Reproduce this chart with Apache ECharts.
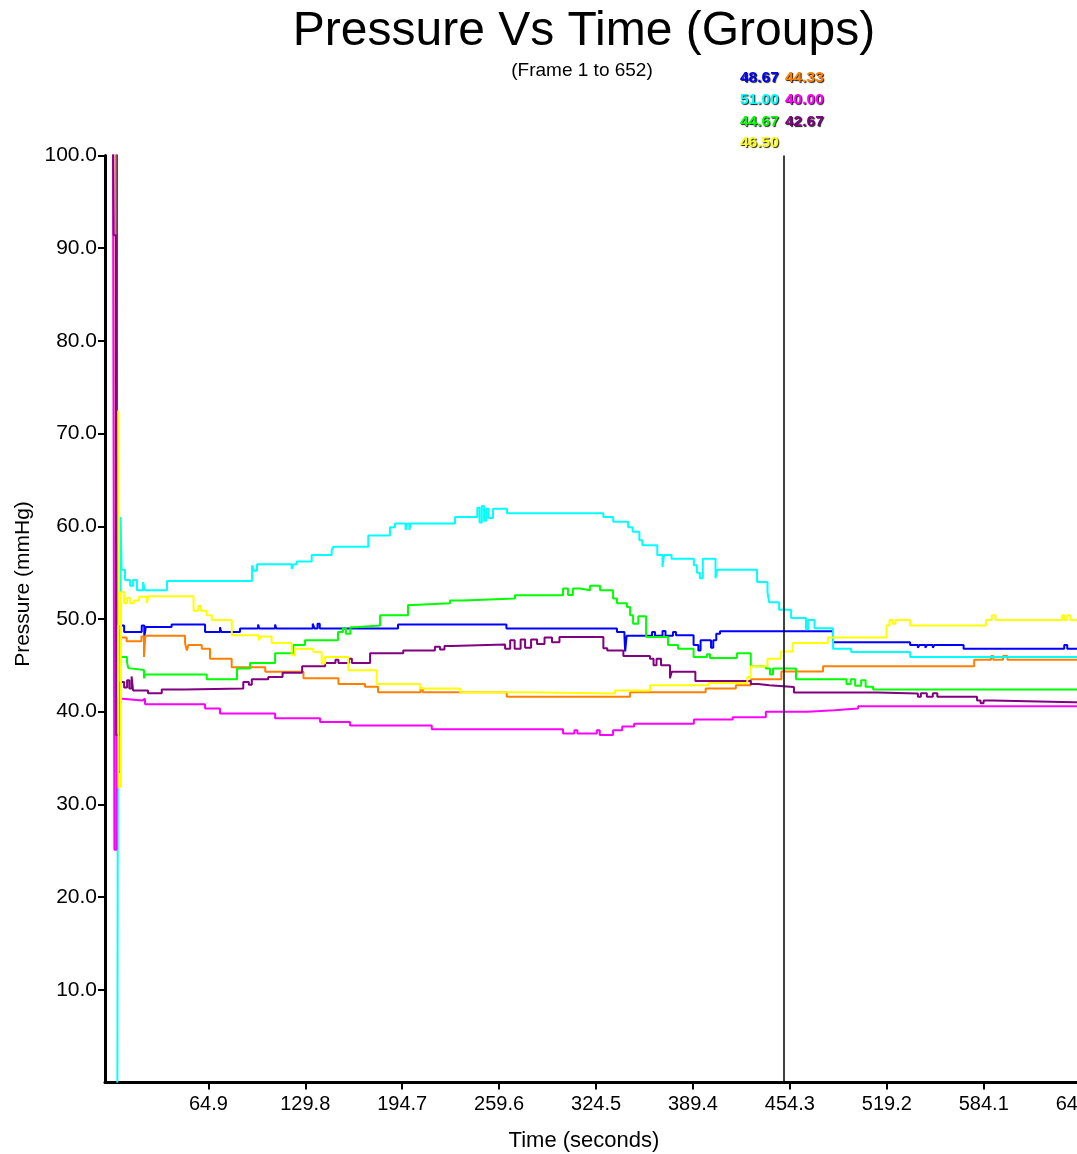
<!DOCTYPE html>
<html><head><meta charset="utf-8">
<script src="https://cdn.jsdelivr.net/npm/echarts@6/dist/echarts.min.js"></script>
<style>html,body{margin:0;padding:0;overflow:hidden;background:#fff;} #chart{width:1130px;height:1154px;}</style>
</head><body><div id="chart"></div>
<script>
// ---- data ----
const titleText = 'Pressure Vs Time (Groups)';
const subtitleText = '(Frame 1 to 652)';
const xAxisName = 'Time (seconds)';
const yAxisName = 'Pressure (mmHg)';
const xTicks = [64.9, 129.8, 194.7, 259.6, 324.5, 389.4, 454.3, 519.2, 584.1, 649.0];
const cursorTime = 450;
const seriesNames = ['Blue', 'Orange', 'Cyan', 'Magenta', 'Green', 'Purple', 'Yellow'];
const seriesColors = ['#0000ff', '#ff8000', '#00ffff', '#ff00ff', '#00ff00', '#800080', '#ffff00'];
const cursorValues = [48.67, 44.33, 51.00, 40.00, 44.67, 42.67, 46.50];

const blueData = [[1.0,105],[3.6,33.5],[6.0,49.3],[8.5,48.6],[20.3,49.3],[22.0,48.0],[23.0,49.15],[40.3,49.4],[62.7,48.6],[72.7,49.1],[73.5,48.6],[86.1,48.97],[98.2,49.4],[99.0,48.97],[109.6,49.4],[110.4,48.97],[134.8,49.5],[136,48.97],[138,49.5],[139.5,48.97],[191.9,49.4],[264.5,48.97],[338.5,48.6],[343.5,48.2],[344,46.5],[345,48.2],[362,48.6],[364,48.2],[369,48.7],[371,48.2],[376,48.6],[378,48.25],[389.8,47.2],[393,46.6],[394.5,47.7],[401.5,46.9],[403,47.7],[405,48.4],[407.5,48.67],[483.1,47.5],[534.8,47.2],[540,46.9],[541,47.2],[545,46.9],[546,47.2],[550,46.9],[551,47.2],[570.6,46.8],[638,47.2],[640,46.8],[652,46.8]];
const orangeData = [[1.0,105],[2.8,44.2],[4.5,37.7],[6.3,48.0],[10.2,47.6],[20.1,48.1],[21.8,45.9],[22.7,48.2],[49.3,47.4],[50.5,46.6],[51.5,47.2],[60.5,46.8],[66.0,45.7],[80.5,44.8],[103.0,44.3],[128.6,43.6],[152.0,43.0],[169.8,42.7],[178.5,42.1],[207,42.5],[208.5,42.1],[264.7,41.6],[347.3,42.1],[397.9,42.5],[418.1,42.86],[428.2,43.5],[448.6,44.33],[476.5,44.9],[577.7,45.6],[589,46.0],[590.5,45.6],[597,46.0],[600,45.6],[652,45.6]];
const cyanData = [[4.0,0],[4.4,49.0],[6.2,61.0],[6.8,55.3],[9.1,54.2],[12.5,53.6],[14.5,54.2],[17.1,53.1],[21.2,54.0],[22.5,53.1],[37.2,54.1],[94.2,55.8],[95.5,55.2],[97.5,55.9],[120.7,55.4],[122.0,55.9],[124.1,56.2],[134.1,56.9],[147.5,57.4],[148.6,57.8],[172.0,59.0],[186.5,59.9],[189.9,60.3],[197,59.6],[198,60.3],[199.5,59.6],[200.5,60.3],[230.1,61.0],[245,62.0],[246.5,60.4],[248,62.2],[249.5,60.6],[251,61.9],[252.5,60.9],[255.5,61.9],[264.9,61.4],[329.4,61.0],[336,60.5],[346,59.9],[349,59.4],[353.5,58.5],[355.5,57.95],[365.5,56.9],[369,55.6],[370,56.9],[375,56.5],[390,55.8],[392,55.0],[394,54.4],[396,56.5],[404.5,54.4],[405.5,55.3],[432.3,54.0],[439.3,52.9],[440.4,51.8],[447.1,51.0],[455.1,50.1],[465.1,48.9],[466.5,49.9],[470.8,49.0],[483.2,46.8],[495.3,46.45],[534.8,45.9],[652,45.9]];
const magentaData = [[1.0,105],[2.0,25.1],[3.4,41.4],[7.5,41.2],[20.5,41.4],[22.5,40.8],[62.7,40.35],[72.7,39.8],[109.6,39.3],[139.7,38.9],[159.8,38.5],[214.5,38.1],[302.4,37.65],[310,38.0],[312,37.65],[325,38.0],[327,37.5],[335.9,38.0],[342,38.4],[350,38.7],[390,39.16],[416,39.4],[438.2,40.0],[466,40.16],[484,40.35],[500,40.6],[652,40.6]];
const greenData = [[4.5,49.4],[5.0,39.1],[6.2,45.9],[10.4,45.4],[11.3,44.7],[12.5,44.5],[21.8,43.6],[22.5,44.0],[63.8,43.5],[84.1,44.66],[92.8,45.26],[109.6,46.3],[121.8,47.2],[129.6,47.7],[151.7,48.6],[155,49.0],[157,48.4],[160,49.1],[163.1,49.3],[179.9,50.4],[198.6,51.5],[201.9,51.7],[226.7,52.0],[235.4,52.2],[270.2,52.56],[302.4,53.3],[305.7,52.6],[309,53.3],[313.8,53.1],[320.5,53.6],[327.2,53.1],[335.9,52.2],[338.5,51.7],[345.2,51.3],[347.3,50.4],[349.3,49.5],[352.8,50.3],[358,48.07],[372.7,47.2],[379.4,46.8],[389.8,45.9],[398.8,46.2],[400.8,45.8],[418.8,46.3],[428.1,44.9],[438.2,44.67],[441,44.0],[443,44.67],[458.4,43.5],[492.2,43.0],[495,43.5],[498,42.8],[502,43.4],[505,42.7],[510,42.4],[652,42.4]];
const purpleData = [[1.0,105],[1.5,91.4],[3.0,37.5],[5.8,43.2],[8.5,42.6],[10.5,43.4],[12.0,42.5],[13.5,43.8],[14.5,42.3],[24.5,42.0],[33.7,42.4],[49.3,42.5],[88.3,43.2],[92,42.9],[94,43.5],[105,43.75],[114.6,44.2],[127.7,44.9],[143.1,45.26],[150,45.6],[152,45.26],[159,45.7],[161,45.26],[173.2,46.3],[195.4,46.6],[216.6,47.0],[220,46.7],[223,47.1],[227.6,47.24],[263.6,46.8],[267,47.7],[270,46.8],[274,47.8],[277,46.9],[281,47.8],[285,47.3],[290,48.0],[295,47.5],[300,48.07],[329.4,46.85],[332,46.6],[342.8,46.0],[360.6,45.7],[363,45.0],[365,45.7],[368,45.0],[374,43.6],[375.2,44.3],[391,43.3],[428.1,43.0],[433,42.86],[440.5,42.67],[457,42.07],[513,41.96],[540,41.6],[542,42.0],[546,41.6],[550,42.0],[553,41.6],[579.6,41.2],[582,40.9],[584,41.2],[590,41.0],[652,41.0]];
const yellowData = [[4.6,72.5],[4.8,31.9],[6.4,52.9],[8.5,51.7],[10.5,52.3],[12.5,51.7],[15,52.0],[18.5,52.4],[23.6,51.7],[24.7,52.45],[55.0,50.9],[58,51.4],[60,50.9],[63.8,50.4],[67.2,49.9],[80.6,48.25],[98.8,47.7],[100,48.1],[107.3,47.4],[120.7,46.1],[122.9,46.8],[135.2,46.45],[140.8,45.2],[143.0,45.9],[158.6,44.47],[177.6,43.0],[206.6,42.5],[233.4,42.1],[278,42.3],[279,41.96],[337.2,42.3],[360.6,42.86],[399.9,43.1],[425.8,43.75],[428.1,44.9],[439.3,45.7],[448.3,46.5],[456.1,47.4],[479.7,48.0],[519.0,49.3],[521,49.9],[523,49.5],[525,49.9],[534.8,49.3],[585.6,49.9],[589.5,50.4],[592,49.9],[636.5,50.4],[638,49.9],[640,50.4],[642,49.9],[652,49.9]];
const allData = [blueData, orangeData, cyanData, magentaData, greenData, purpleData, yellowData];

// ---- chart ----
const FONT = "'Liberation Sans', Arial, sans-serif";
const chart = echarts.init(document.getElementById('chart'), null, {renderer: 'canvas'});

const series = allData.map((d, i) => {
  const s = {
    name: seriesNames[i], type: 'line', data: d, step: 'end',
    showSymbol: false, symbol: 'none', clip: true,
    lineStyle: {color: seriesColors[i], width: 2}, itemStyle: {color: seriesColors[i]},
    emphasis: {disabled: true}, silent: true, z: 3
  };
  if (i === 0) {
    s.markLine = {
      silent: true, symbol: ['none', 'none'], animation: false,
      label: {show: false},
      lineStyle: {color: '#000', width: 1.5, type: 'solid'},
      data: [{xAxis: cursorTime}]
    };
  }
  return s;
});

const legendCols = [740, 785];
const legendRows = [78, 100, 122, 143];
const legendGraphics = cursorValues.map((v, i) => ({
  type: 'text',
  x: legendCols[i % 2], y: legendRows[Math.floor(i / 2)],
  style: {
    text: v.toFixed(2), fill: seriesColors[i],
    font: "bold 15.5px " + FONT,
    align: 'left', verticalAlign: 'middle',
    textShadowColor: 'rgba(0,0,0,0.9)', textShadowOffsetX: 1, textShadowOffsetY: 1, textShadowBlur: 1
  }
}));

const option = {
  animation: false,
  backgroundColor: '#fff',
  grid: {left: 105, top: 155.5, right: 32.9, bottom: 71.5, containLabel: false},
  xAxis: {
    type: 'value', min: -4.3, max: 660,
    axisLine: {show: true, onZero: false, lineStyle: {color: '#000', width: 3}},
    axisTick: {show: true, customValues: xTicks, length: 7, lineStyle: {color: '#000', width: 2}},
    axisLabel: {show: true, customValues: xTicks, formatter: v => v.toFixed(1), margin: 12,
      color: '#000', fontSize: 20, fontFamily: FONT},
    splitLine: {show: false}
  },
  yAxis: {
    type: 'value', min: 0, max: 100, interval: 10,
    axisLine: {show: true, onZero: false, lineStyle: {color: '#000', width: 3}},
    axisTick: {show: true, length: 7, lineStyle: {color: '#000', width: 2}},
    axisLabel: {show: true, showMinLabel: false, formatter: v => v.toFixed(1), margin: 8,
      color: '#000', fontSize: 21, fontFamily: FONT},
    splitLine: {show: false}
  },
  series: series,
  graphic: [
    {type: 'text', x: 584, y: 32, style: {text: titleText, font: "48px " + FONT, fill: '#000', align: 'center', verticalAlign: 'middle'}},
    {type: 'text', x: 582, y: 71, style: {text: subtitleText, font: "19px " + FONT, fill: '#000', align: 'center', verticalAlign: 'middle'}},
    {type: 'text', x: 584, y: 1141, style: {text: xAxisName, font: "22px " + FONT, fill: '#000', align: 'center', verticalAlign: 'middle'}},
    {type: 'text', x: 23, y: 584, rotation: Math.PI / 2, style: {text: yAxisName, font: "21px " + FONT, fill: '#000', align: 'center', verticalAlign: 'middle'}}
  ].concat(legendGraphics)
};
chart.setOption(option);
</script>
</body></html>
